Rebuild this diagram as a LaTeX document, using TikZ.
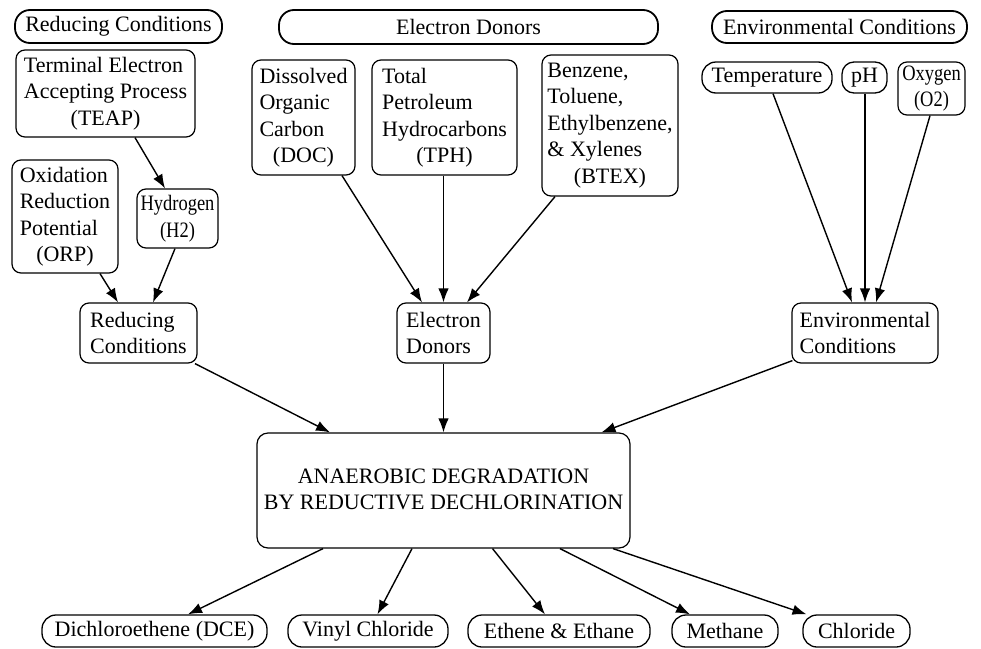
\documentclass[tikz,border=0pt]{standalone}
\usepackage{fontspec}
\setmainfont{Liberation Serif}
\usetikzlibrary{arrows.meta}
\newcommand\ctrline[1]{\hspace*{\fill}#1\hspace*{\fill}}
\newcommand\narrow{\addfontfeature{FakeStretch=0.84}}
\tikzset{
  base/.style={draw, line width=1.2pt, inner sep=2pt, font=\fontsize{22}{26.5}\selectfont},
  header/.style={base, line width=1.8pt, rounded corners=15pt},
  box/.style={base, rounded corners=9pt, align=left},
  pill/.style={base, line width=1.3pt, rounded corners=14pt},
  arr/.style={line width=1.4pt, -{Latex[length=14pt,width=10.5pt]}},
}
\begin{document}
\begin{tikzpicture}[x=1pt, y=-1pt]
\useasboundingbox (0,0) rectangle (981,648);

% group headings
\node[header, minimum width=207, minimum height=33] (hRed) at (118.5,26.5) {Reducing Conditions};
\node[header, minimum width=379, minimum height=34] (hEd)  at (468.5,27)   {Electron Donors};
\node[header, minimum width=255, minimum height=32] (hEnv) at (839.5,27)   {Environmental Conditions};

% reducing-conditions factors
\node[box, minimum width=179, minimum height=87]  (teap) at (105.5,93.5)
  {Terminal Electron\\Accepting Process\\\ctrline{(TEAP)}};
\node[box, minimum width=106, minimum height=113] (orp)  at (65,216.5)
  {Oxidation\\Reduction\\Potential\\\ctrline{(ORP)}};
\node[box, align=center, minimum width=81, minimum height=59] (h2) at (177.5,218.5)
  {\narrow Hydrogen\\\narrow (H2)};

% electron-donor factors
\node[box, minimum width=103, minimum height=115] (doc)  at (303.5,117.5)
  {Dissolved\\Organic\\Carbon\\\ctrline{(DOC)}};
\node[box, minimum width=145, minimum height=115] (tph)  at (444.5,117.5)
  {Total\\Petroleum\\Hydrocarbons\\\ctrline{(TPH)}};
\node[box, minimum width=136, minimum height=141] (btex) at (610,125.5)
  {Benzene,\\Toluene,\\Ethylbenzene,\\\& Xylenes\\\ctrline{(BTEX)}};

% environmental factors
\node[pill, minimum width=130, minimum height=31] (temp) at (767,77.5) {Temperature};
\node[pill, minimum width=45,  minimum height=31, rounded corners=12pt] (ph) at (864.5,77.5) {pH};
\node[box, align=center, minimum width=67, minimum height=53] (oxy) at (931.5,88.5)
  {\narrow Oxygen\\\narrow (O2)};

% intermediate summaries
\node[box, minimum width=117, minimum height=60] (red) at (138.5,333) {Reducing\\Conditions};
\node[box, minimum width=93,  minimum height=60] (ed)  at (443.5,333) {Electron\\Donors};
\node[box, minimum width=146, minimum height=60] (env) at (865,333)   {Environmental\\Conditions};

% central process
\node[box, align=center, rounded corners=11pt, minimum width=373, minimum height=115] (main) at (443.5,490.5)
  {\raisebox{3pt}{ANAEROBIC DEGRADATION}\\\raisebox{3pt}{BY REDUCTIVE DECHLORINATION}};

% products
\node[pill, minimum width=225, minimum height=32] (dce)  at (154.5,631) {Dichloroethene (DCE)};
\node[pill, minimum width=160, minimum height=32] (vc)   at (368,631)   {Vinyl Chloride};
\node[pill, minimum width=182, minimum height=32] (ee)   at (559,631)   {Ethene \& Ethane};
\node[pill, minimum width=106, minimum height=32] (meth) at (725,631)   {Methane};
\node[pill, minimum width=107, minimum height=32] (chl)  at (856.5,631) {Chloride};

% connectors
\draw[arr] ([xshift=29.5pt]teap.south) -- ([xshift=-12.5pt]h2.north);
\draw[arr] ([xshift=35pt]orp.south) -- ([xshift=-20.5pt]red.north);
\draw[arr] ([xshift=-2.5pt]h2.south) -- ([xshift=14.5pt]red.north);

\draw[arr] ([xshift=38.5pt]doc.south) -- ([xshift=-21.5pt]ed.north);
\draw[arr] (ed.north |- tph.south) -- (ed.north);
\draw[arr] ([xshift=-55pt]btex.south) -- ([xshift=23.5pt]ed.north);

\draw[arr] ([xshift=6pt]temp.south) -- ([xshift=-13pt]env.north);
\draw[arr] (env.north |- ph.south) -- (env.north);
\draw[arr] ([xshift=-1.5pt]oxy.south) -- ([xshift=11pt]env.north);

\draw[arr] ([xshift=56.5pt]red.south) -- ([xshift=-113.5pt]main.north);
\draw[arr] (ed.south) -- (main.north);
\draw[arr] ([xshift=1pt,yshift=3pt]env.south west) -- ([xshift=158pt]main.north);

\draw[arr] ([xshift=-120.5pt]main.south) -- ([xshift=33.5pt]dce.north);
\draw[arr] ([xshift=-31.5pt]main.south) -- ([xshift=9.5pt]vc.north);
\draw[arr] ([xshift=49pt]main.south) -- ([xshift=-14pt]ee.north);
\draw[arr] ([xshift=116.5pt]main.south) -- ([xshift=-35pt]meth.north);
\draw[arr] ([xshift=169.5pt]main.south) -- ([xshift=-50pt]chl.north);
\end{tikzpicture}
\end{document}
